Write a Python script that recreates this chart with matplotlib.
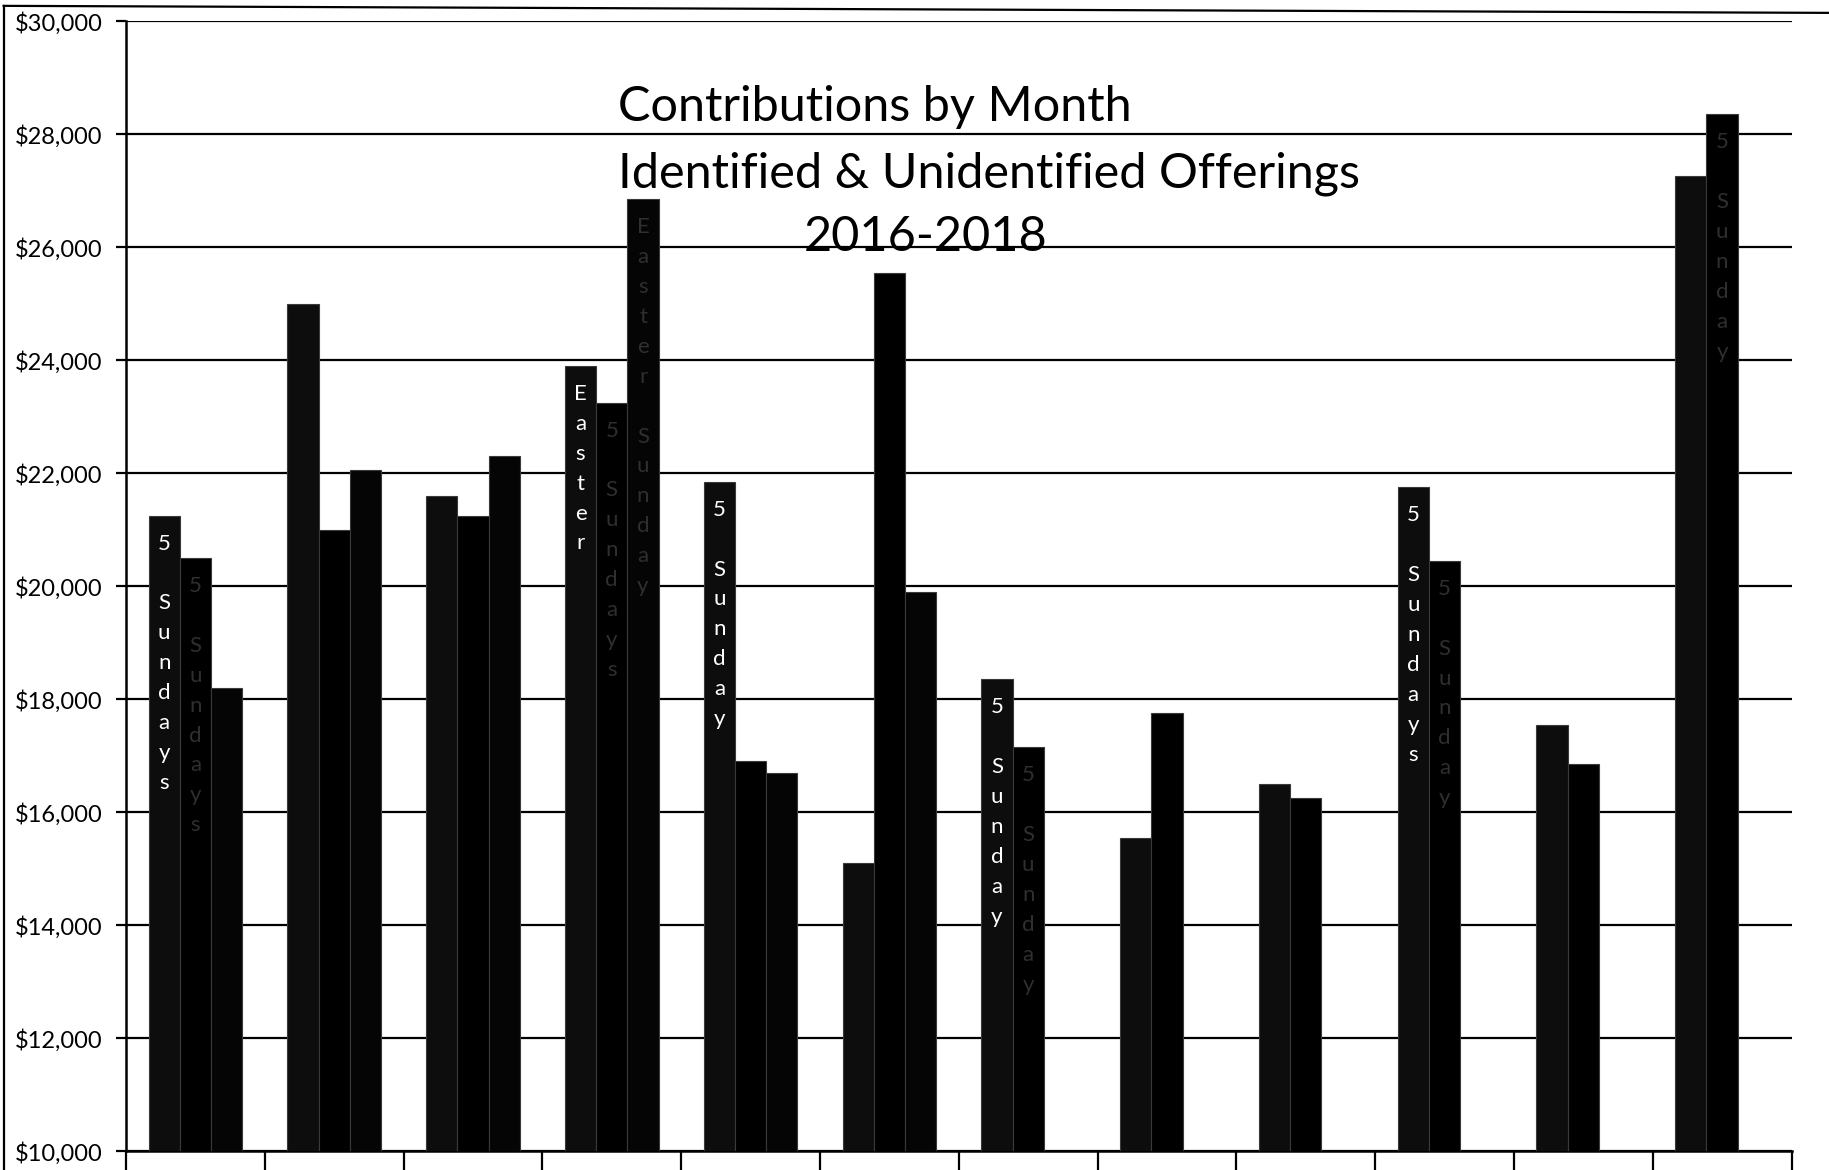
import numpy as np
import matplotlib.pyplot as plt
from matplotlib.lines import Line2D

plt.rcParams['font.family'] = ['Lato', 'DejaVu Sans']

months = ['Jan', 'Feb', 'Mar', 'Apr', 'May', 'Jun',
          'Jul', 'Aug', 'Sep', 'Oct', 'Nov', 'Dec']
years = ['2016', '2017', '2018']

# monthly contributions
contrib_2016 = [21250, 25000, 21600, 23900, 21850, 15100,
                18350, 15550, 16500, 21750, 17550, 27250]
contrib_2017 = [20500, 21000, 21250, 23250, 16900, 25550,
                17150, 17750, 16250, 20450, 16850, 28350]
contrib_2018 = [18200, 22050, 22300, 26850, 16700, 19900]

yticks = list(range(10000, 30001, 2000))

# (year index, month index, note, printed clearly?)
notes = [
    (0, 0, '5 Sundays', True),
    (1, 0, '5 Sundays', False),
    (0, 3, 'Easter', True),
    (1, 3, '5 Sundays', False),
    (2, 3, 'Easter Sunday', False),
    (0, 4, '5 Sunday', True),
    (0, 6, '5 Sunday', True),
    (1, 6, '5 Sunday', False),
    (0, 9, '5 Sundays', True),
    (1, 9, '5 Sunday', False),
    (1, 11, '5 Sunday', False),
]

series = [contrib_2016, contrib_2017, contrib_2018]
bar_colors = ['#0d0d0d', '#000000', '#050505']
width = 0.225
offsets = [-width, 0, width]

fig = plt.figure(figsize=(18.29, 11.70), dpi=100)
ax = fig.add_axes([0.0689, 0.016, 0.9106, 0.966])

for vals, off, col, yr in zip(series, offsets, bar_colors, years):
    x = np.arange(len(vals)) + off
    ax.bar(x, vals, width=width, color=col, edgecolor='#3a3a3a',
           linewidth=0.8, label=yr, zorder=3)

for yi, mi, note, clear in notes:
    x = mi + offsets[yi]
    y = series[yi][mi]
    stacked = '\n'.join(c if c != ' ' else '' for c in note)
    ax.annotate(stacked, xy=(x, y), xytext=(0, -13),
                textcoords='offset points', ha='center', va='top',
                fontsize=16, linespacing=1.62,
                color='white' if clear else '#2f2f2f', zorder=4)

ax.set_ylim(10000, 30000)
ax.set_xlim(-0.5, 11.5)
ax.set_yticks(yticks)
ax.set_yticklabels([f'${v:,}' for v in yticks], fontsize=17)
ax.yaxis.grid(True, color='black', linewidth=1.6, zorder=1)
ax.set_axisbelow(True)

ax.set_xticks(np.arange(-0.5, 12, 1))
ax.set_xticklabels([])
ax.tick_params(axis='x', length=30, width=1.6, direction='out')
ax.tick_params(axis='y', length=7, width=1.6, pad=10, direction='out')

for side in ['top', 'right']:
    ax.spines[side].set_visible(False)
for side in ['left', 'bottom']:
    ax.spines[side].set_linewidth(1.8)

fig.text(0.338, 0.8963, 'Contributions by Month', fontsize=35, ha='left', va='baseline')
fig.text(0.338, 0.8395, 'Identified & Unidentified Offerings', fontsize=35,
         ha='left', va='baseline')
fig.text(0.506, 0.7856, '2016-2018', fontsize=35, ha='center', va='baseline')

# scanner page edge
fig.add_artist(Line2D([0.002, 0.002], [0.0, 0.995], transform=fig.transFigure,
                      color='black', linewidth=1.6))
fig.add_artist(Line2D([0.002, 1.0], [0.995, 0.989], transform=fig.transFigure,
                      color='black', linewidth=1.6))

fig.savefig('out.png', dpi=100)
